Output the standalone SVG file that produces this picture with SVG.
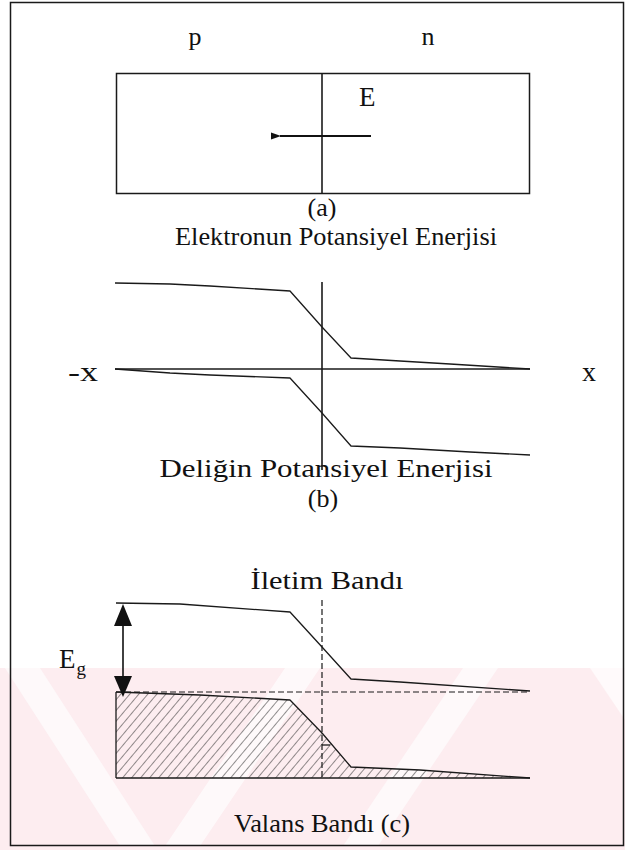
<svg xmlns="http://www.w3.org/2000/svg" width="625" height="850" viewBox="0 0 625 850">
<defs>
<style>
text{font-family:'Liberation Serif','DejaVu Serif',serif;fill:#111}
.c{fill:none;stroke:#1a1a1a;stroke-width:1.3;stroke-linejoin:round}
.ax{fill:none;stroke:#1a1a1a;stroke-width:1.6}
.d{fill:none;stroke:#1a1a1a;stroke-width:1.2;stroke-dasharray:6 3}
</style>
<pattern id="hatch" patternUnits="userSpaceOnUse" width="6.9" height="10" patternTransform="rotate(40)">
<line x1="0" y1="0" x2="0" y2="10" stroke="#222" stroke-width="1"/>
</pattern>
<marker id="ah" markerWidth="10" markerHeight="8" refX="1" refY="4" orient="auto" markerUnits="userSpaceOnUse">
<path d="M0,4 L10,0.5 L10,7.5 Z" fill="#111"/>
</marker>
</defs>
<g id="watermark">
<rect x="0" y="668" width="625" height="182" fill="#fdedf0"/>
<g fill="#ffffff" opacity="0.7">
<polygon points="5,668 40,668 155,846 120,846"/>
<polygon points="285,668 320,668 200,846 165,846"/>
<polygon points="463,668 498,668 378,846 343,846"/>
<polygon points="590,668 625,668 625,720"/>
</g>
</g>
<g id="frame">
<rect x="10.5" y="2.5" width="613" height="843" fill="none" stroke="#1a1a1a" stroke-width="1.5"/>
</g>
<g id="panel-a" font-family="Liberation Serif, serif">
<text x="195" y="45" font-size="26" text-anchor="middle">p</text>
<text x="428" y="45" font-size="26" text-anchor="middle">n</text>
<rect id="junction-box" x="116.5" y="73.5" width="413" height="120" fill="none" stroke="#1a1a1a" stroke-width="1.5"/>
<line x1="322" y1="73" x2="322" y2="194" class="ax"/>
<text x="359" y="106" font-size="27">E</text>
<text x="322" y="216" font-size="26" text-anchor="middle">(a)</text>
<text x="336" y="245" font-size="25" text-anchor="middle" textLength="322" lengthAdjust="spacingAndGlyphs">Elektronun Potansiyel Enerjisi</text>
</g>
<g id="panel-b" font-family="Liberation Serif, serif">
<line x1="322" y1="282" x2="322" y2="470" class="ax"/>
<line x1="115" y1="369" x2="530" y2="369" class="ax"/>
<polyline class="c" points="115,283 170,284 210,286 290,291 322,327 351,358 400,361 450,364 530,369"/>
<polyline class="c" points="115,369 170,373 210,375 290,378 322,413 351,446 400,448 470,452 530,455"/>
<text x="68" y="381" font-size="28" textLength="30" lengthAdjust="spacingAndGlyphs">-x</text>
<text x="589" y="381" font-size="28" text-anchor="middle">x</text>
<text x="326" y="477" font-size="26" text-anchor="middle" textLength="333" lengthAdjust="spacingAndGlyphs">Deliğin Potansiyel Enerjisi</text>
<text x="323" y="507" font-size="26" text-anchor="middle">(b)</text>
</g>
<g id="panel-c" font-family="Liberation Serif, serif">
<text x="327" y="589" font-size="26" text-anchor="middle" textLength="153" lengthAdjust="spacingAndGlyphs">İletim Bandı</text>
<polygon points="116,692 200,695 290,700 322,733 351,767 420,770 530,778 116,778" fill="url(#hatch)" stroke="none"/>
<polyline class="c" points="116,603 180,604 290,612 322,647 351,679 400,682 530,691"/>
<polyline class="c" points="116,692 200,695 290,700 322,733 351,767 420,770 530,778"/>
<line x1="116" y1="692" x2="530" y2="692" class="d"/>
<line x1="116" y1="692" x2="116" y2="778" class="c"/>
<line x1="116" y1="778" x2="530" y2="778" class="ax"/>
<line x1="322" y1="600" x2="322" y2="778" class="d"/>
<line x1="322" y1="745" x2="330" y2="745" class="c"/>
<g id="eg-arrow">
<line x1="123" y1="620" x2="123" y2="680" stroke="#111" stroke-width="1.6"/>
<polygon points="123,604 114,626 132,626" fill="#111"/>
<polygon points="123,697 114,676 132,676" fill="#111"/>
</g>
<text x="59" y="668" font-size="27">E<tspan font-size="19" dx="1" dy="7">g</tspan></text>
<text x="322" y="832" font-size="26" text-anchor="middle" textLength="176" lengthAdjust="spacingAndGlyphs">Valans Bandı (c)</text>
</g>
<g id="connectors">
<line x1="371" y1="136" x2="280" y2="136" stroke="#111" stroke-width="2.2" marker-end="url(#ah)"/>
</g>
</svg>
